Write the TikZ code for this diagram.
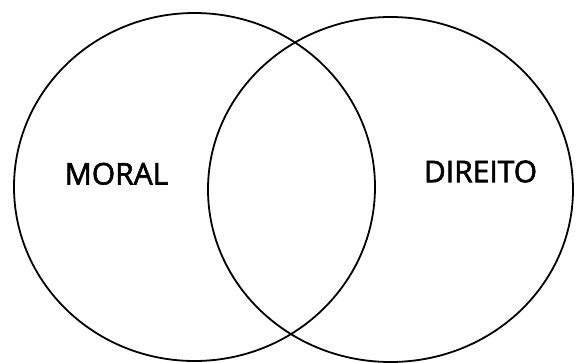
\documentclass[tikz,border=0pt]{standalone}
\usepackage{fontspec}
\setmainfont{Open Sans}
\newfontfamily\lblfont{Open Sans}[FakeBold=2]
\usepackage{tikz}

\tikzset{circ/.style={line width=1.8pt}, lbl/.style={font=\lblfont\fontsize{30}{30}\selectfont}}

\begin{document}
\begin{tikzpicture}[x=1pt,y=-1pt]
\useasboundingbox (0,0) rectangle (576,362);
\draw[circ] (194.5,187) ellipse (180.5 and 174);
\draw[circ] (390.5,189.5) ellipse (182.5 and 172.5);

%labels for the two sets
\node[lbl] (moral) at (116.5,173.8) {MORAL};
\node[lbl] (direito) at (480.5,171.5) {DIREITO};
\end{tikzpicture}
\end{document}
